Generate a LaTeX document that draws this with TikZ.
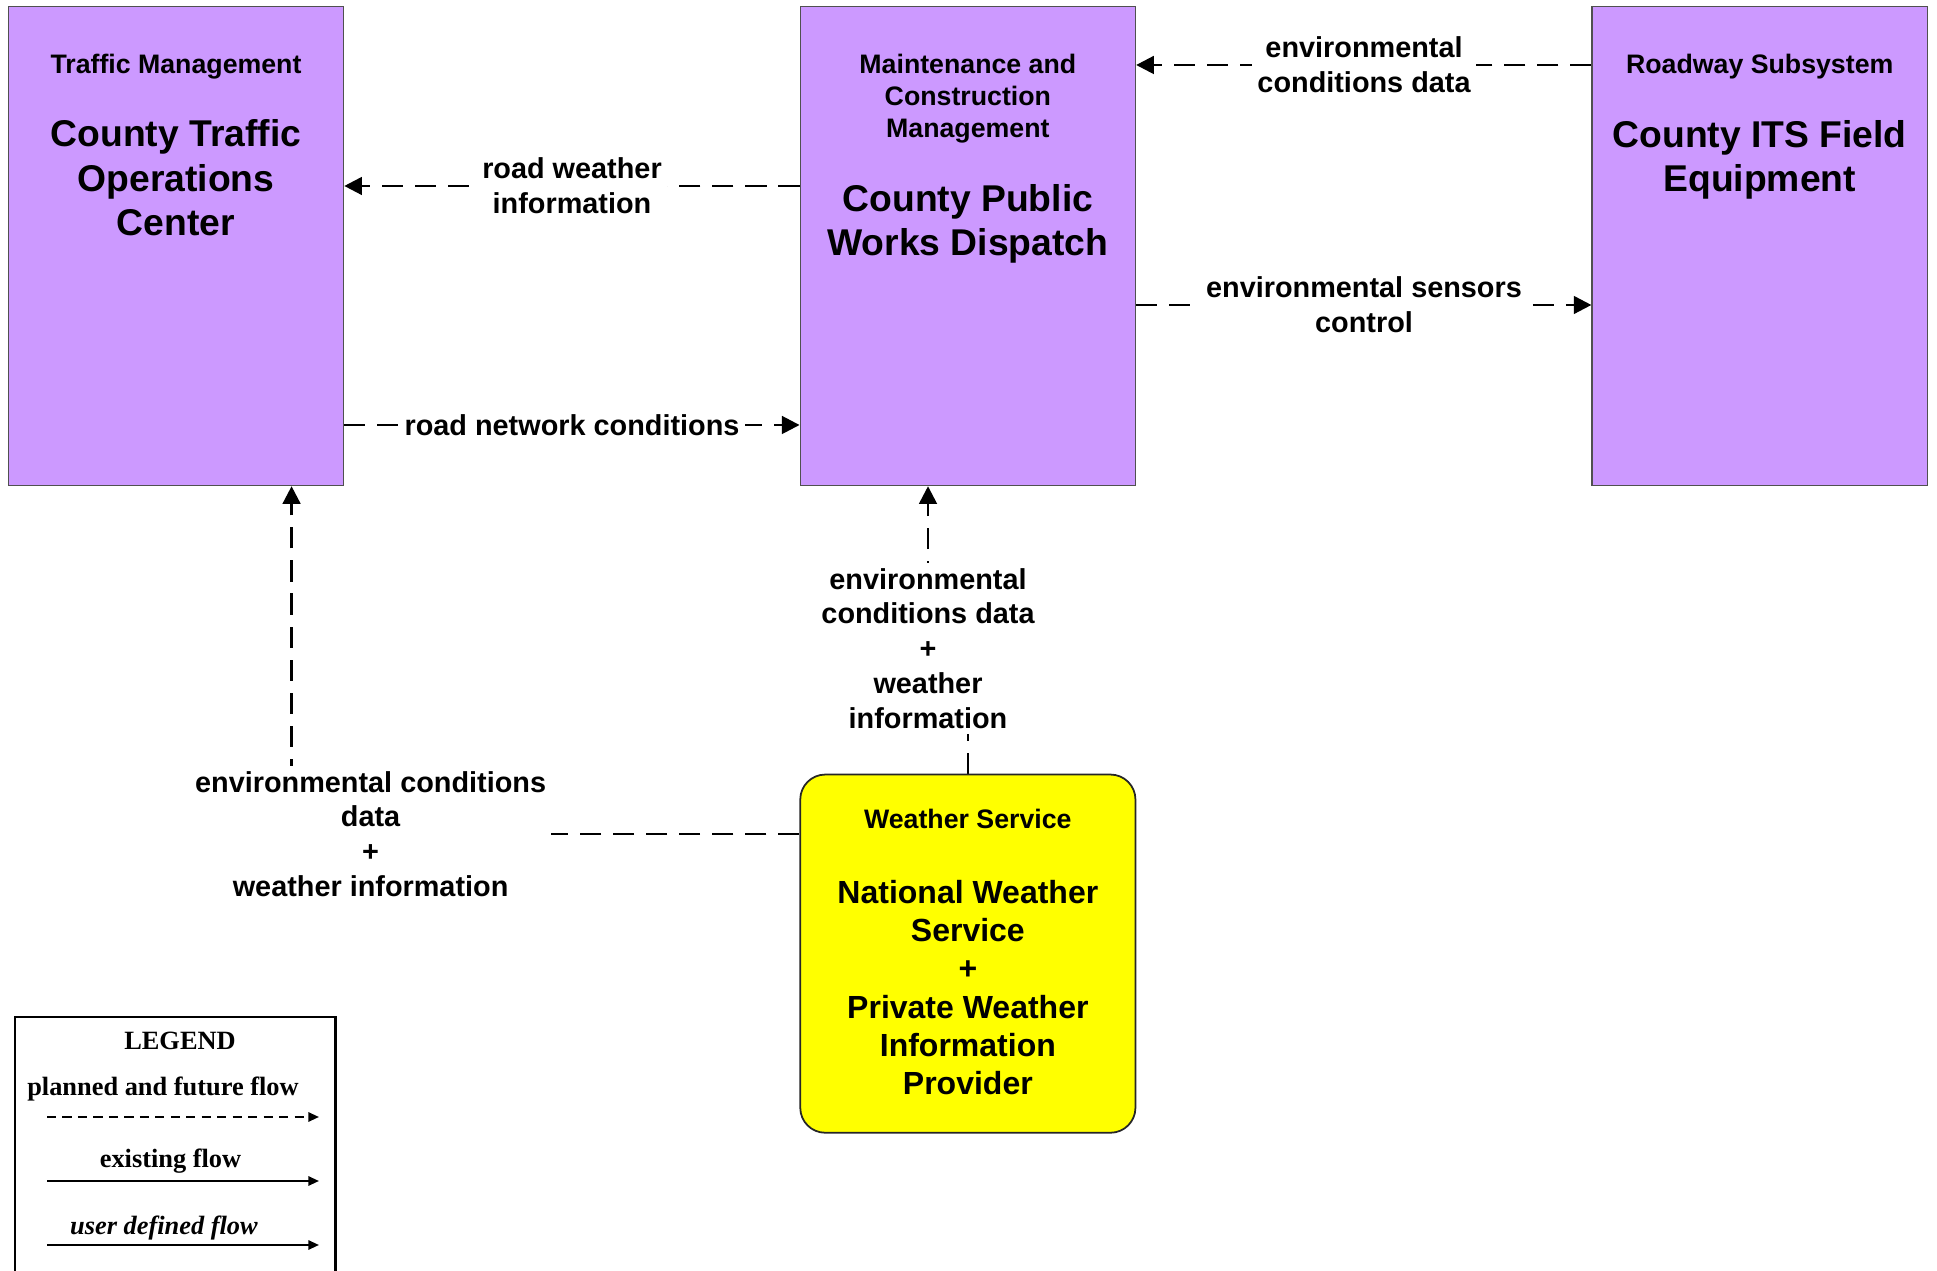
\documentclass[tikz,border=0pt]{standalone}
\usepackage{fontspec}
\setmainfont{Liberation Sans}
\newfontfamily\legendfont{Liberation Serif}
\usetikzlibrary{arrows.meta,backgrounds}

\definecolor{sysviolet}{RGB}{204,153,255}
\definecolor{wxyellow}{RGB}{255,255,0}
\definecolor{boxline}{RGB}{80,80,80}

\begin{document}
\begin{tikzpicture}[x=0.01cm, y=-0.01cm,
  sys/.style={draw=boxline, line width=0.4pt, fill=sysviolet, minimum width=3.35cm, minimum height=4.79cm, inner sep=0pt},
  wx/.style={draw=black!85, line width=0.5pt, fill=wxyellow, rounded corners=0.25cm, minimum width=3.35cm, minimum height=3.58cm, inner sep=0pt},
  kind/.style={align=center, font=\bfseries\fontsize{7.6}{9.1}\selectfont},
  title/.style={align=center, font=\bfseries\fontsize{10.6}{12.66}\selectfont},
  wxtitle/.style={align=center, font=\bfseries\fontsize{9.1}{10.9}\selectfont},
  lbl/.style={fill=white, inner sep=1.5pt, align=center, font=\bfseries\fontsize{8.2}{9.9}\selectfont},
  flow/.style={line width=0.75pt, dash pattern=on 6pt off 3.4pt, -{Triangle[length=5pt,width=5pt]}},
  legtxt/.style={font=\legendfont\bfseries\fontsize{7.5}{9}\selectfont},
  legflow/.style={line width=0.6pt, -{Triangle[length=3pt,width=2.6pt]}}]

  \useasboundingbox (0,0) rectangle (1937,1271);

  \node[sys] (tmc) at (176,245.9) {};
  \node[sys] (mcm) at (967.85,245.9) {};
  \node[sys] (rss) at (1759.7,245.9) {};
  \node[wx] (ws) at (967.85,953.65) {};

  \node[kind] at (176,67) {Traffic Management};
  \node[title] at (176,178) {County Traffic\\Operations\\Center};
  \node[kind] at (967.85,99) {Maintenance and\\Construction\\Management};
  \node[title] at (967.85,224) {County Public\\Works Dispatch};
  \node[kind] at (1759.7,67) {Roadway Subsystem};
  \node[title] at (1759.7,160) {County ITS Field\\Equipment};
  \node[kind] at (967.85,819) {Weather Service};
  \node[wxtitle] at (967.85,987.5) {National Weather\\Service\\+\\Private Weather\\Information\\Provider};

  \node[lbl] (rwi) at (572,186) {road weather\\information};
  \node[lbl] (rnc) at (572,425) {road network conditions};
  \node[lbl] (ecd) at (1364,65) {environmental\\conditions data};
  \node[lbl] (esc) at (1364,305) {environmental sensors\\control};
  \node[lbl] (wxm) at (928,648.5) {environmental\\conditions data\\+\\weather\\information};
  \node[lbl] (wxt) at (370.6,834) {environmental conditions\\data\\+\\weather information};

  \begin{pgfonlayer}{background}
    \draw[flow] (mcm.west |- rwi) -- (tmc.east |- rwi);
    \draw[flow] (tmc.east |- rnc) -- (mcm.west |- rnc);
    \draw[flow] (rss.west |- ecd) -- (mcm.east |- ecd);
    \draw[flow] (mcm.east |- esc) -- (rss.west |- esc);
    \draw[flow] (ws.north) |- (wxm.center) -| (wxm.center |- mcm.south);
    \draw[flow] (ws.west |- wxt) -| ([xshift=1.155cm]tmc.south);
  \end{pgfonlayer}

  \node[draw=black, line width=0.8pt, minimum width=3.2cm, minimum height=3cm, inner sep=0pt] (legend) at (175,1167) {};
  \node[legtxt] at (180,1041) {LEGEND};
  \node[legtxt] at (163,1089.5) {planned and future flow};
  \draw[legflow, dash pattern=on 2.6pt off 1.8pt] (47,1117) -- (319,1117);
  \node[legtxt] at (170.5,1161) {existing flow};
  \draw[legflow] (47,1181) -- (319,1181);
  \node[legtxt] at (164,1228) {\itshape user defined flow};
  \draw[legflow] (47,1245) -- (319,1245);

\end{tikzpicture}
\end{document}
